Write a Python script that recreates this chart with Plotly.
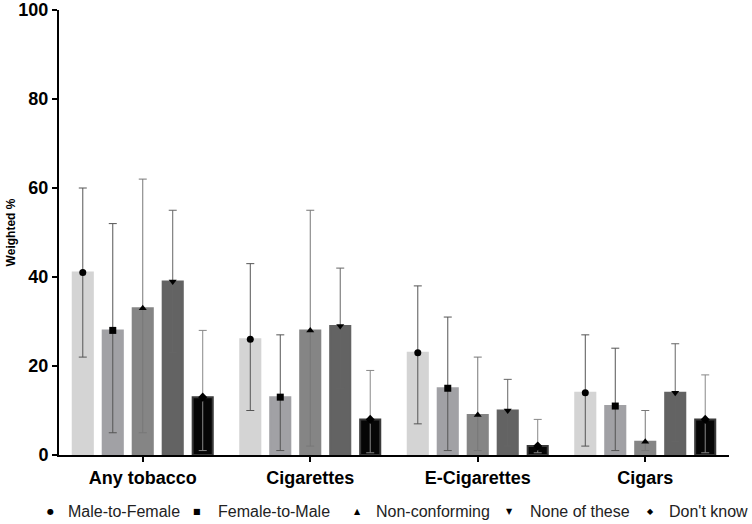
"""Tobacco use by gender identity: grouped bars with 95% CI."""

import plotly.graph_objects as go

categories = ["Any tobacco", "Cigarettes", "E-Cigarettes", "Cigars"]
groups = ["Male-to-Female", "Female-to-Male", "Non-conforming", "None of these", "Don't know"]

# weighted % and CI bounds, one list per group (ordered like categories)
mtf = [41, 26, 23, 14]
mtf_lo = [22, 10, 7, 2]
mtf_hi = [60, 43, 38, 27]

ftm = [28, 13, 15, 11]
ftm_lo = [5, 1, 1, 1]
ftm_hi = [52, 27, 31, 24]

nonconf = [33, 28, 9, 3]
nonconf_lo = [5, 2, 1, 1]
nonconf_hi = [62, 55, 22, 10]

none_these = [39, 29, 10, 14]
none_these_lo = [23, 15, 2, 3]
none_these_hi = [55, 42, 17, 25]

dont_know = [13, 8, 2, 8]
dont_know_lo = [1, 0.5, 0.5, 0.5]
dont_know_hi = [28, 19, 8, 18]

values = [mtf, ftm, nonconf, none_these, dont_know]
lows = [mtf_lo, ftm_lo, nonconf_lo, none_these_lo, dont_know_lo]
highs = [mtf_hi, ftm_hi, nonconf_hi, none_these_hi, dont_know_hi]

BAR_COLORS = ["#d4d4d4", "#a1a1a5", "#858585", "#636363", "#060606"]
LINE_COLORS = ["#d4d4d4", "#a1a1a5", "#858585", "#636363", "#3a3a3a"]
ERR_COLORS = ["#555555", "#555555", "#777777", "#666666", "#888888"]
SYMBOLS = ["circle", "square", "triangle-up", "triangle-down", "diamond"]
KEY_GLYPHS = ["●", "■", "▲", "▼", "◆"]
FONT = "Arial, Liberation Sans, sans-serif"

fig = go.Figure()

for i, name in enumerate(groups):
    vals = values[i]
    up = [h - v for h, v in zip(highs[i], vals)]
    down = [v - l for v, l in zip(vals, lows[i])]
    fig.add_trace(go.Bar(
        x=categories, y=vals, name=name,
        offsetgroup=str(i),
        marker=dict(color=BAR_COLORS[i], line=dict(color=LINE_COLORS[i], width=2)),
        error_y=dict(type="data", symmetric=False, array=up, arrayminus=down,
                     color=ERR_COLORS[i], thickness=1, width=4),
        showlegend=False,
    ))
    fig.add_trace(go.Scatter(
        x=categories, y=vals, name=name,
        offsetgroup=str(i),
        mode="markers",
        marker=dict(symbol=SYMBOLS[i], size=7, color="black"),
        showlegend=False,
    ))

# key along the bottom, drawn as text so it stays on one line like the original
key_sym_x = [50, 197, 357, 509, 650]     # px
key_text_x = [68, 218, 376, 530, 669]    # px
plot_l, plot_w, plot_b, plot_h = 59, 670, 455, 445
key_y = (plot_b - 511) / plot_h
for i, name in enumerate(groups):
    fig.add_annotation(
        x=(key_sym_x[i] - plot_l) / plot_w, y=key_y, xref="paper", yref="paper",
        text=KEY_GLYPHS[i], showarrow=False, xanchor="center", yanchor="middle",
        font=dict(size=8, family="DejaVu Sans", color="black"),
    )
    fig.add_annotation(
        x=(key_text_x[i] - plot_l) / plot_w, y=key_y, xref="paper", yref="paper",
        text=name, showarrow=False, xanchor="left", yanchor="middle",
        xshift=-2, font=dict(size=16, family=FONT, color="#222222"),
    )

fig.update_layout(
    width=752, height=524,
    barmode="group",
    bargap=0.105,
    bargroupgap=0.33,
    scattermode="group",
    scattergap=0.105,
    plot_bgcolor="white",
    paper_bgcolor="white",
    showlegend=False,
    margin=dict(l=59, r=23, t=10, b=69),
    font=dict(family=FONT, color="black"),
    xaxis=dict(
        automargin=False,
        showline=True, linecolor="black", linewidth=2,
        ticks="outside", ticklen=5, tickwidth=2, tickcolor="black",
        tickfont=dict(size=18, family=FONT, weight="bold"),
        showgrid=False,
    ),
    yaxis=dict(
        automargin=False,
        range=[0, 100], tickvals=[0, 20, 40, 60, 80, 100],
        showline=True, linecolor="black", linewidth=2,
        ticks="outside", ticklen=5, tickwidth=2, tickcolor="black",
        tickfont=dict(size=18, family=FONT, weight="bold"),
        showgrid=False, zeroline=False,
        title=dict(text="Weighted %", font=dict(size=12, weight="bold"), standoff=0),
    ),
)

# drop the default page margin so the figure sits at the window's corner
fig.write_html(
    "out.html",
    config={"displayModeBar": False},
    post_script="document.body.style.margin = '0';",
)
